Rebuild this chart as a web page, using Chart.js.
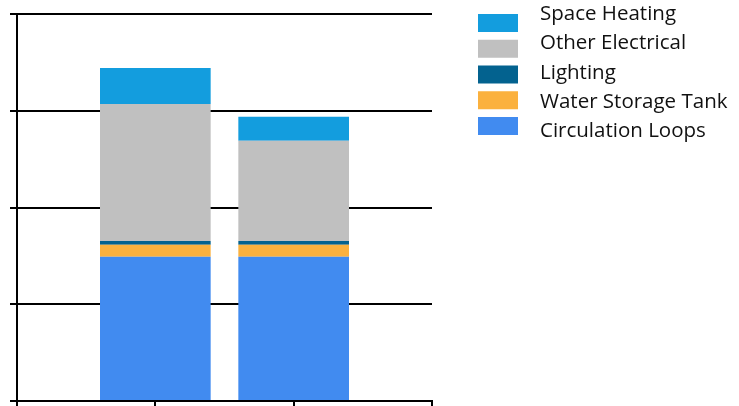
<!DOCTYPE html>
<html>
<head>
<meta charset="utf-8">
<script src="https://cdn.jsdelivr.net/npm/chart.js@4"></script>
<style>
  html, body { margin: 0; padding: 0; background: #fff; }
  #wrap { width: 739px; height: 406px; }
</style>
</head>
<body>
<div id="wrap"><canvas id="energyChart"></canvas></div>
<script>
// ======================= DATA =======================

// Two bars, padded with empty slots so the bars sit on the inner tick marks
const categories = ['', 'Case A', 'Case B', ''];

const circulationLoops = [null, 149, 149, null];
const waterStorageTank = [null, 12.4, 12.4, null];
const lighting         = [null, 4.1, 4.1, null];
const otherElectrical  = [null, 141.6, 103.4, null];
const spaceHeating     = [null, 37.2, 24.8, null];

const yTicks = [0, 100, 200, 300, 400];

// ======================= LEGEND PLUGIN =======================

// Draws the legend to the right of the plot, top series first.
// Boxes and text rows use different spacing, like the original.
const sideLegend = {
    id: 'sideLegend',
    afterDraw(chart) {
        const ctx = chart.ctx;
        const sets = chart.data.datasets.slice().reverse();
        ctx.save();
        ctx.font = '20.5px "Open Sans", sans-serif';
        ctx.textBaseline = 'alphabetic';
        sets.forEach((ds, i) => {
            ctx.fillStyle = ds.backgroundColor;
            ctx.fillRect(478, 14 + i * 25.75, 40, 18);
            ctx.fillStyle = '#111';
            ctx.fillText(ds.label, 540, 20 + i * 29.25);
        });
        ctx.restore();
    }
};

// ======================= CHART =======================

const ctx = document.getElementById('energyChart').getContext('2d');

new Chart(ctx, {
    type: 'bar',
    data: {
        labels: categories,
        datasets: [
            { label: 'Circulation Loops', data: circulationLoops, backgroundColor: '#418BF0' },
            { label: 'Water Storage Tank', data: waterStorageTank, backgroundColor: '#FBB13E' },
            { label: 'Lighting', data: lighting, backgroundColor: '#03628F' },
            { label: 'Other Electrical', data: otherElectrical, backgroundColor: '#C0C0C0' },
            { label: 'Space Heating', data: spaceHeating, backgroundColor: '#139DDE' }
        ]
    },
    options: {
        responsive: true,
        maintainAspectRatio: false,
        animation: false,
        layout: {
            padding: { left: 10, top: 14, right: 307, bottom: 0 }
        },
        datasets: {
            bar: { categoryPercentage: 1, barPercentage: 0.8 }
        },
        scales: {
            x: {
                stacked: true,
                offset: false,
                ticks: { display: false },
                grid: {
                    offset: false,
                    drawOnChartArea: false,
                    color: '#000',
                    lineWidth: 2,
                    tickLength: 5
                },
                border: { color: '#000', width: 2 }
            },
            y: {
                stacked: true,
                min: yTicks[0],
                max: yTicks[yTicks.length - 1],
                afterBuildTicks(scale) {
                    scale.ticks = yTicks.map(v => ({ value: v }));
                },
                ticks: { display: false },
                grid: {
                    color: '#000',
                    lineWidth: 2,
                    tickLength: 7
                },
                border: { color: '#000', width: 2 }
            }
        },
        plugins: {
            legend: { display: false },
            tooltip: { enabled: false }
        }
    },
    plugins: [sideLegend]
});
</script>
</body>
</html>
